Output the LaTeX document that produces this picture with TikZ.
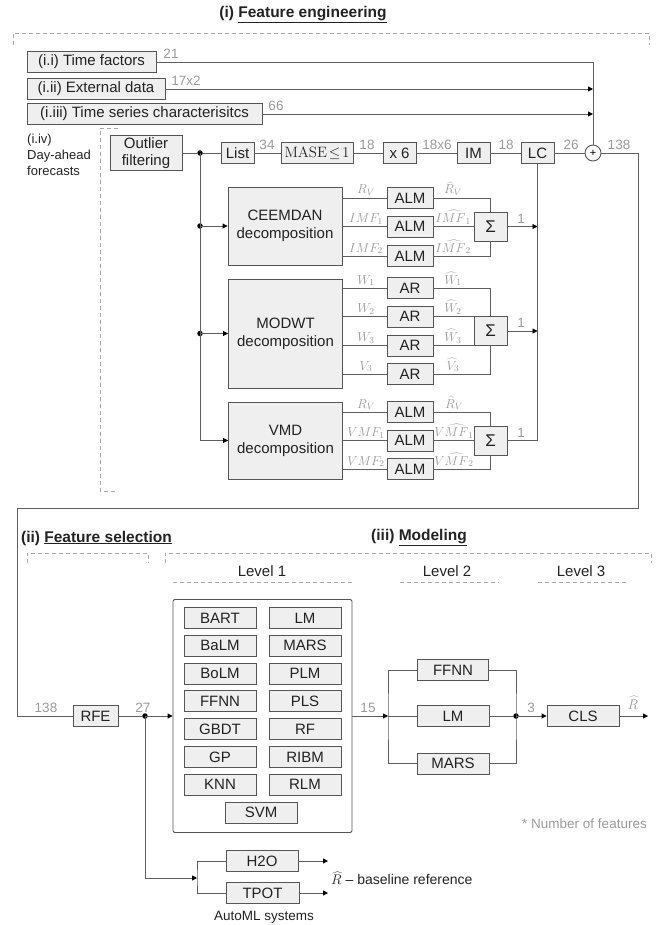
\RequirePackage{fix-cm}
\documentclass[tikz,border=0pt]{standalone}
\usepackage[no-math]{fontspec}
\setmainfont{Liberation Sans}
\usetikzlibrary{arrows.meta,calc}
\definecolor{boxfill}{HTML}{EFEFEF}
\definecolor{boxline}{HTML}{555555}
\definecolor{wire}{HTML}{5E5E5E}
\definecolor{lbl}{HTML}{9A9A9A}
\definecolor{dashc}{HTML}{A8A8A8}
\definecolor{txt}{HTML}{222222}
\tikzset{
  box/.style={draw=boxline, fill=boxfill, line width=0.9pt, inner sep=0pt, minimum height=21pt, text=txt, font=\fontsize{15}{18}\selectfont, align=center},
  wire/.style={draw=wire, line width=0.9pt},
  arr/.style={-{Triangle[length=5pt,width=5pt,color=black]}},
  dot/.style={circle, fill=black, inner sep=0pt, minimum size=5.5pt},
  num/.style={text=lbl, font=\fontsize{13.5}{15}\selectfont, inner sep=0pt, anchor=south},
  mlab/.style={text=lbl, font=\fontsize{13}{15}\selectfont, inner sep=0pt, anchor=base},
  dsh/.style={draw=dashc, line width=0.8pt, dash pattern=on 4pt off 3pt},
  ttl/.style={text=txt, font=\bfseries\fontsize{15.5}{18}\selectfont, inner sep=0pt},
  lvl/.style={text=txt, font=\fontsize{15}{18}\selectfont, inner sep=0pt},
  note/.style={text=txt, font=\fontsize{13.5}{16}\selectfont, inner sep=0pt},
  sig/.style={box, minimum width=33pt, minimum height=29pt, font=\fontsize{17}{17}\selectfont},
  mbox/.style={box, minimum width=72pt}
}
\begin{document}
\begin{tikzpicture}[x=1pt,y=-1pt]
\useasboundingbox (0,0) rectangle (661,925);

% ---------- (i) Feature engineering ----------
\node[ttl] (t1) at (303,15) {(i) \underline{Feature engineering}};
\draw[dsh] (13,45) -- (13,33) -- (649,33) -- (649,45);

\node[box, minimum width=129pt] (tf) at (91.5,62) {(i.i) Time factors};
\node[box, minimum width=138pt] (ed) at (96,89) {(i.ii) External data};
\node[box, minimum width=235pt] (ts) at (144.5,114) {(i.iii) Time series characterisitcs};
\node[circle, draw=boxline, fill=white, line width=0.9pt, minimum size=16pt, inner sep=0pt, font=\fontsize{11}{11}\selectfont] (plus) at (593,153) {+};

\draw[wire] (tf.east) -| (plus.north);
\draw[wire, arr] (ed.east) -- (ed.east -| plus.north);
\draw[wire, arr] (ts.east) -- (ts.east -| plus.north);
\node[num] at (171,59) {21};
\node[num] at (186,86) {17x2};
\node[num] at (276,111) {66};

\node[note, anchor=north west, align=left, font=\fontsize{13}{16}\selectfont] (iv) at (27,134) {(i.iv)\\Day-ahead\\forecasts};
\draw[dsh] (118,128) -- (100,128) -- (100,491) -- (118,491);

\node[box, minimum width=72pt, minimum height=35pt, font=\fontsize{15}{17}\selectfont] (of) at (146,153) {Outlier\\filtering};
\node[dot] (d0) at (200,153) {};
\node[box, minimum width=33pt] (list) at (237.5,153) {List};
\node[box, minimum width=72pt] (mase) at (317,153) {$\mathrm{MASE}\!\leq\!1$};
\node[box, minimum width=33pt] (x6) at (399.5,153) {x 6};
\node[box, minimum width=33pt] (im) at (473.5,153) {IM};
\node[box, minimum width=33pt] (lc) at (537.5,153) {LC};
\draw[wire] (of.east) -- (d0) -- (list) -- (mase) -- (x6) -- (im) -- (lc) -- (plus);
\node[num] at (267,150) {34};
\node[num] at (367,150) {18};
\node[num] at (437,150) {18x6};
\node[num] at (506,150) {18};
\node[num] at (571,150) {26};
\node[num] at (619,150) {138};

% decomposition boxes
\node[box, minimum width=114pt, minimum height=78pt] (ceem) at (285,226) {CEEMDAN\\decomposition};
\node[box, minimum width=114pt, minimum height=109pt] (modwt) at (285.5,333.5) {MODWT\\decomposition};
\node[box, minimum width=114pt, minimum height=77pt] (vmd) at (285.5,440.5) {VMD\\decomposition};

\node[dot] (d1) at (200,226) {};
\node[dot] (d2) at (200,333.5) {};
\draw[wire] (d0.center) -- (d2.center);
\draw[wire, arr] (d2.center) |- (vmd.west);
\draw[wire, arr] (d1.center) -- (ceem.west);
\draw[wire, arr] (d2.center) -- (modwt.west);

% CEEMDAN branch
\node[box, minimum width=46pt] (a1) at (410,198) {ALM};
\node[box, minimum width=46pt] (a2) at (410,226.5) {ALM};
\node[box, minimum width=46pt] (a3) at (410,256) {ALM};
\node[sig] (s1) at (490.5,226.5) {Σ};
\draw[wire] (a1 -| ceem.east) -- (a1.west);
\draw[wire] (a2 -| ceem.east) -- (a2.west);
\draw[wire] (a3 -| ceem.east) -- (a3.west);
\draw[wire] (a1.east) -| (s1.north);
\draw[wire] (a2.east) -- (a2.east -| s1.west);
\draw[wire] (a3.east) -| (s1.south);
\draw[wire, arr] (s1.east) -- (s1.east -| lc.south);
\node[mlab] at (366,194) {$R_V$};
\node[mlab] at (366,222.5) {$IMF_1$};
\node[mlab] at (366,252) {$IMF_2$};
\node[mlab] at (453,194) {$\widehat{R}_V$};
\node[mlab] at (453,222.5) {$I\widehat{MF}_1$};
\node[mlab] at (453,252) {$I\widehat{MF}_2$};
\node[num] at (521,223.5) {1};

% MODWT branch
\node[box, minimum width=46pt] (r1) at (410,288) {AR};
\node[box, minimum width=46pt] (r2) at (410,316.5) {AR};
\node[box, minimum width=46pt] (r3) at (410,345.5) {AR};
\node[box, minimum width=46pt] (r4) at (410,374) {AR};
\node[sig] (s2) at (490.5,331) {Σ};
\draw[wire] (r1 -| modwt.east) -- (r1.west);
\draw[wire] (r2 -| modwt.east) -- (r2.west);
\draw[wire] (r3 -| modwt.east) -- (r3.west);
\draw[wire] (r4 -| modwt.east) -- (r4.west);
\draw[wire] (r1.east) -| (s2.north);
\draw[wire] (r2.east) -- (r2.east -| s2.west);
\draw[wire] (r3.east) -- (r3.east -| s2.west);
\draw[wire] (r4.east) -| (s2.south);
\draw[wire, arr] (s2.east) -- (s2.east -| lc.south);
\node[mlab] at (366,284) {$W_1$};
\node[mlab] at (366,312.5) {$W_2$};
\node[mlab] at (366,341.5) {$W_3$};
\node[mlab] at (366,370) {$V_3$};
\node[mlab] at (453,284) {$\widehat{W}_1$};
\node[mlab] at (453,312.5) {$\widehat{W}_2$};
\node[mlab] at (453,341.5) {$\widehat{W}_3$};
\node[mlab] at (453,370) {$\widehat{V}_3$};
\node[num] at (521,328) {1};

% VMD branch
\node[box, minimum width=46pt] (v1) at (410,412) {ALM};
\node[box, minimum width=46pt] (v2) at (410,440.5) {ALM};
\node[box, minimum width=46pt] (v3) at (410,469) {ALM};
\node[sig] (s3) at (490.5,440.5) {Σ};
\draw[wire] (v1 -| vmd.east) -- (v1.west);
\draw[wire] (v2 -| vmd.east) -- (v2.west);
\draw[wire] (v3 -| vmd.east) -- (v3.west);
\draw[wire] (v1.east) -| (s3.north);
\draw[wire] (v2.east) -- (v2.east -| s3.west);
\draw[wire] (v3.east) -| (s3.south);
\draw[wire] (lc.south) |- (s3.east);
\node[mlab] at (366,408) {$R_V$};
\node[mlab] at (366,436.5) {$VMF_1$};
\node[mlab] at (366,465) {$VMF_2$};
\node[mlab] at (454,408) {$\widehat{R}_V$};
\node[mlab] at (454,436.5) {$V\widehat{MF}_1$};
\node[mlab] at (454,465) {$V\widehat{MF}_2$};
\node[num] at (521,437.5) {1};

% ---------- (ii) Feature selection & (iii) Modeling ----------
\node[ttl] (t2) at (96.5,538) {(ii) \underline{Feature selection}};
\node[ttl] (t3) at (419,538) {(iii) \underline{Modeling}};
\draw[dsh] (27,563) -- (27,553) -- (148,553) -- (148,563);
\draw[dsh] (165,563) -- (165,553) -- (651,553) -- (651,563);
\node[lvl] (lv1) at (262,571) {Level 1};
\node[lvl] (lv2) at (447,571) {Level 2};
\node[lvl] (lv3) at (581,571) {Level 3};
\draw[dsh] (173,582) -- (352,582);
\draw[dsh] (400,582) -- (499,582);
\draw[dsh] (538,582) -- (626,582);

\node[box, minimum width=45pt] (rfe) at (95.5,716) {RFE};
\coordinate (c1) at (638,508);
\coordinate (c2) at (17,508);
\draw[wire] (plus.east) -| (c1) -- (c2) |- (rfe.west);
\node[num] at (46,713) {138};

\node[draw=boxline, fill=white, rounded corners=2pt, line width=0.9pt, minimum width=179pt, minimum height=233pt, inner sep=0pt] (lev1) at (262.5,716) {};
\node[mbox] (m1) at (220,618) {BART};
\node[mbox] (m2) at (220,645.8) {BaLM};
\node[mbox] (m3) at (220,673.6) {BoLM};
\node[mbox] (m4) at (220,701.4) {FFNN};
\node[mbox] (m5) at (220,729.2) {GBDT};
\node[mbox] (m6) at (220,757) {GP};
\node[mbox] (m7) at (220,784.8) {KNN};
\node[mbox] (n1) at (305,618) {LM};
\node[mbox] (n2) at (305,645.8) {MARS};
\node[mbox] (n3) at (305,673.6) {PLM};
\node[mbox] (n4) at (305,701.4) {PLS};
\node[mbox] (n5) at (305,729.2) {RF};
\node[mbox] (n6) at (305,757) {RIBM};
\node[mbox] (n7) at (305,784.8) {RLM};
\node[mbox] (sv) at (261,812.6) {SVM};

\node[dot] (d3) at (145,716) {};
\draw[wire] (rfe.east) -- (d3);
\draw[wire, arr] (d3.center) -- (lev1.west);
\node[num] at (143,713) {27};

% Level 2
\node[mbox, minimum width=71pt] (ff) at (453,670) {FFNN};
\node[mbox] (lm) at (453,716) {LM};
\node[mbox] (ma) at (453,763.5) {MARS};
\coordinate (l2a) at (388,716);
\draw[wire, arr] (lev1.east) -- (l2a);
\draw[wire] (l2a) -- (lm.west);
\draw[wire] (ff.west) -| (l2a) |- (ma.west);
\node[num] at (368,713) {15};
\node[dot] (d4) at (516,716) {};
\draw[wire] (ff.east) -| (d4.center) |- (ma.east);
\draw[wire] (lm.east) -- (d4);

% Level 3
\node[mbox] (cls) at (583,716) {CLS};
\draw[wire, arr] (d4.center) -- (cls.west);
\node[num] at (531,713) {3};
\coordinate (rout) at (648,716);
\draw[wire, arr] (cls.east) -- (rout);
\node[mlab, text=lbl, font=\fontsize{14}{16}\selectfont] at (633,709) {$\widehat{R}$};
\node[note, text=lbl] (nf) at (584.5,824) {* Number of features};

% AutoML
\node[mbox] (h2o) at (262,861) {H2O};
\node[mbox, minimum width=73pt] (tpot) at (262.5,893) {TPOT};
\coordinate (am) at (197,878);
\draw[wire, arr] (d3.center) |- (am);
\draw[wire] (h2o.west) -| (am) |- (tpot.west);
\coordinate (ho) at (328,861);
\coordinate (to) at (328,893);
\draw[wire, arr] (h2o.east) -- (ho);
\draw[wire, arr] (tpot.east) -- (to);
\node[note, anchor=west, font=\fontsize{14}{16}\selectfont] (bl) at (331,878) {$\widehat{R}$ -- baseline reference};
\node[note] (aml) at (264,917) {AutoML systems};
\end{tikzpicture}
\end{document}
